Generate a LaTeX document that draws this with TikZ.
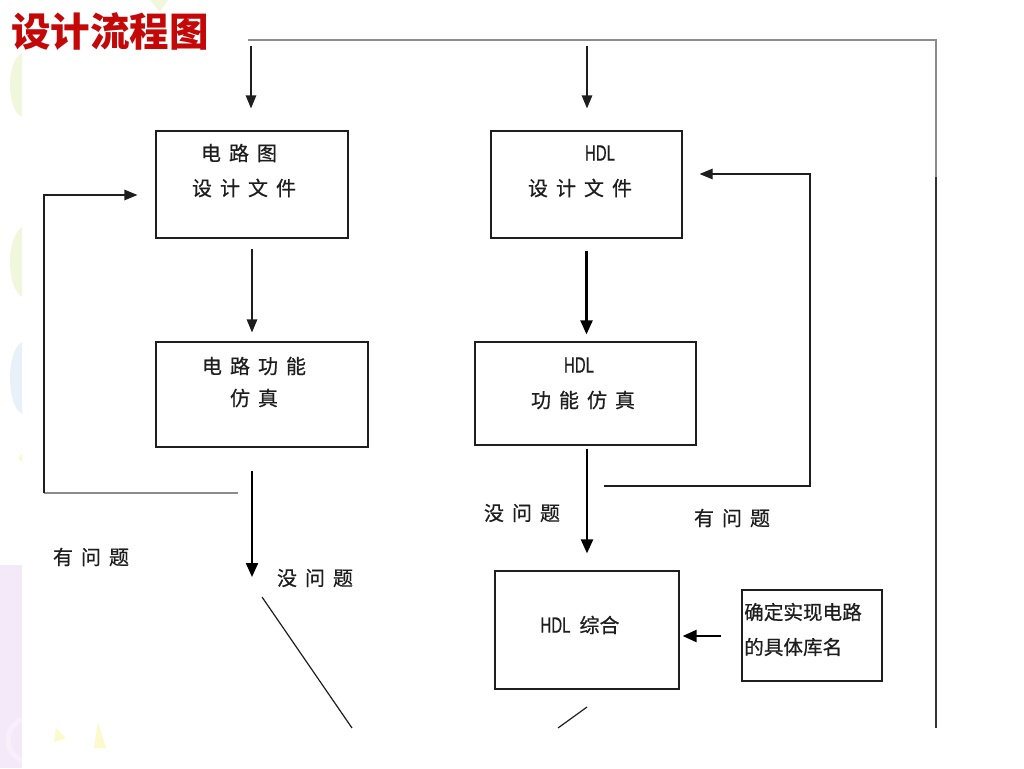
\documentclass[tikz,border=0pt]{standalone}
\usepackage{fontspec}
\newfontfamily\cjk{Noto Sans CJK SC}
\newfontfamily\cjkb[FakeBold=0.6]{Noto Sans CJK SC}
\newfontfamily\hdlfont[FakeStretch=0.68,FakeBold=0.5]{Liberation Sans}
\usetikzlibrary{arrows.meta}
\definecolor{titlered}{RGB}{196,8,8}
\definecolor{inkc}{RGB}{30,30,30}
\definecolor{greyline}{RGB}{140,140,140}
\definecolor{decogreen}{RGB}{240,247,220}
\definecolor{decoblue}{RGB}{232,241,250}
\definecolor{decopurple}{RGB}{243,233,249}
\definecolor{decoyellow}{RGB}{252,250,205}
\newcommand{\cgap}{\hspace{8pt}}
\begin{document}
\begin{tikzpicture}[x=1pt,y=-1pt,
  box/.style={draw=inkc, line width=1.2pt, inner sep=0pt},
  txt/.style={text=inkc, font=\cjkb\fontsize{20}{24}\selectfont, inner sep=0pt},
  thinarr/.style={draw=inkc, line width=1.2pt, -{Triangle[length=13pt,width=10.5pt]}},
  thickarr/.style={draw=black, line width=2.2pt, -{Triangle[length=14pt,width=12pt]}},
  plainline/.style={draw=inkc, line width=1.2pt},
  greyl/.style={draw=greyline, line width=1.6pt}]
\useasboundingbox (0,0) rectangle (1024,768);
\fill[white] (0,0) rectangle (1024,768);
% faint background decorations
\begin{scope}
\clip (0,0) rectangle (22,768);
\fill[decogreen] (24,85) ellipse (14pt and 32pt);
\fill[decogreen] (26,262) ellipse (16pt and 36pt);
\fill[decoblue] (24,378) ellipse (14pt and 36pt);
\fill[decoyellow] (18,458) -- (24,452) -- (24,464) -- cycle;
\fill[decopurple] (0,565) rectangle (22,768);
\draw[decopurple!70!white, line width=5pt] (30,740) circle (22pt);
\end{scope}
\fill[decoyellow] (56,728) -- (66,738) -- (54,742) -- cycle;
\fill[decoyellow] (98,722) -- (106,748) -- (94,748) -- cycle;
\fill[decogreen] (150,0) -- (168,0) -- (160,12) -- cycle;

% title
\node[anchor=west, text=titlered, inner sep=0pt, font=\cjk\bfseries\fontsize{39.5}{42}\selectfont] (title) at (11,32) {设计流程图};

% boxes
\node[box, minimum width=192pt, minimum height=107pt] (b1) at (252,184.5) {};
\node[box, minimum width=191pt, minimum height=107pt] (b2) at (586.5,184.5) {};
\node[box, minimum width=212pt, minimum height=105pt] (b3) at (262,394.5) {};
\node[box, minimum width=221pt, minimum height=103pt] (b4) at (585.5,393.5) {};
\node[box, minimum width=184pt, minimum height=118pt] (b5) at (587,630) {};
\node[box, minimum width=140pt, minimum height=91pt] (b6) at (812,635.5) {};

% box texts
\node[txt] (b1l1) at (239,153) {电\cgap 路\cgap 图};
\node[txt] (b1l2) at (244,188) {设\cgap 计\cgap 文\cgap 件};
\node[txt, font=\hdlfont\fontsize{22}{24}\selectfont] (b2l1) at (600,153) {HDL};
\node[txt] (b2l2) at (580,188) {设\cgap 计\cgap 文\cgap 件};
\node[txt] (b3l1) at (254,366) {电\cgap 路\cgap 功\cgap 能};
\node[txt] (b3l2) at (254,398) {仿\cgap 真};
\node[txt, font=\hdlfont\fontsize{22}{24}\selectfont] (b4l1) at (579,365) {HDL};
\node[txt] (b4l2) at (583,400) {功\cgap 能\cgap 仿\cgap 真};
\node[txt] (b5l1) at (580,625) {{\hdlfont\fontsize{22}{24}\selectfont HDL}\hspace{9pt}综合};
\node[txt, anchor=west, font=\cjkb\fontsize{19.6}{24}\selectfont] (b6l1) at (744,612) {确定实现电路};
\node[txt, anchor=west, font=\cjkb\fontsize{19.6}{24}\selectfont] (b6l2) at (744,647) {的具体库名};

% labels
\node[txt] (lq1) at (91,557) {有\cgap 问\cgap 题};
\node[txt] (lok1) at (315,578) {没\cgap 问\cgap 题};
\node[txt] (lok2) at (522,513) {没\cgap 问\cgap 题};
\node[txt] (lq2) at (732,518) {有\cgap 问\cgap 题};

% coordinates
\coordinate (tl) at (248,40);
\coordinate (tr) at (936,40);
\coordinate (trm) at (936,177);
\coordinate (trb) at (936,728);
\coordinate (t1) at (251,46);
\coordinate (t2) at (587,46);
\coordinate (lf) at (238,493);
\coordinate (lfc) at (44,493);
\coordinate (lfa) at (44,195);
\coordinate (n3) at (252,577);
\coordinate (rf) at (604,486);
\coordinate (rfc) at (810,486);
\coordinate (rfa) at (810,174);
\coordinate (d1a) at (262,597);
\coordinate (d1b) at (352,728);
\coordinate (d2a) at (587,707);
\coordinate (d2b) at (558,728);

% top loop line
\draw[greyl] (tl) -- (tr) -- (trm);
\draw[draw=black!80, line width=1.6pt] (trm) -- (trb);

% connectors
\draw[thinarr, shorten >=22pt] (t1) -- (t1 |- b1.north);
\draw[thinarr, shorten >=22pt] (t2) -- (t2 |- b2.north);
\draw[thinarr, shorten <=10pt, shorten >=9pt] (b1.south) -- (b1.south |- b3.north);
\draw[thickarr, shorten <=12pt, shorten >=7pt] (b2.south) -- (b2.south |- b4.north);
\draw[thickarr, shorten <=23pt] (b1.south |- b3.south) -- (n3);
\draw[thickarr, shorten <=3pt, shorten >=17pt] (b5.north |- b4.south) -- (b5.north);
\draw[thickarr, shorten <=20pt, shorten >=3pt] (b6.west |- 0,636) -- (b5.east |- 0,636);

% left feedback
\draw[greyl] (lf) -- (lfc);
\draw[thinarr, shorten >=18pt] (lfc) -- (lfa) -- (lfa -| b1.west);
% right feedback
\draw[thinarr, shorten >=17pt] (rf) -- (rfc) -- (rfa) -- (rfa -| b2.east);

% diagonal continuations
\draw[plainline] (d1a) -- (d1b);
\draw[plainline] (d2a) -- (d2b);
\end{tikzpicture}
\end{document}
